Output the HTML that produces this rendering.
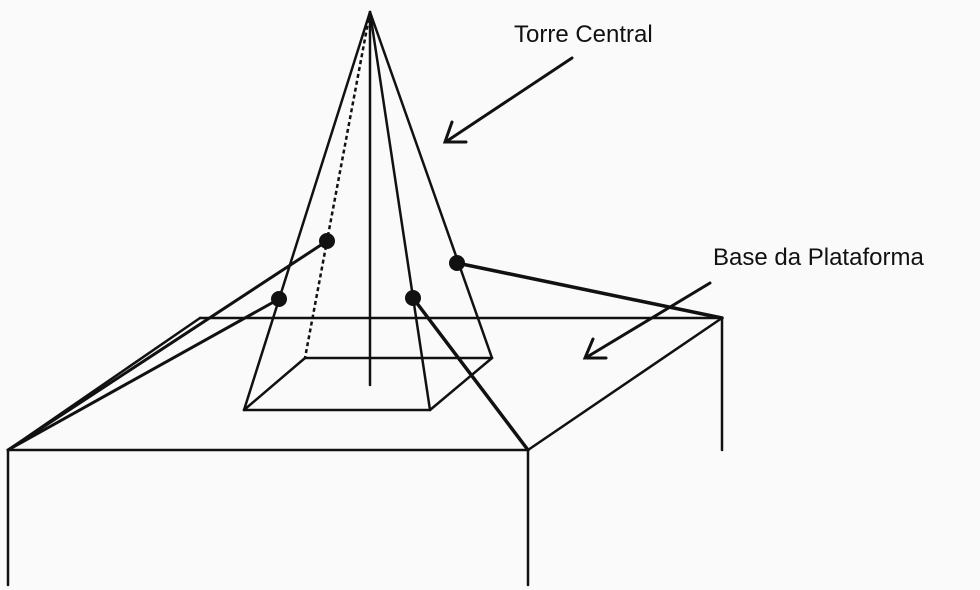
<!DOCTYPE html>
<html><head><style>
html,body{margin:0;padding:0;background:#fafafa;}
svg{display:block}
text{font-family:"Liberation Sans",sans-serif;font-size:24px;fill:#111}
</style></head><body>
<svg width="980" height="590" viewBox="0 0 980 590">
<g stroke="#111" stroke-width="2.5" fill="none" stroke-linecap="round">
<!-- platform -->
<line x1="8" y1="450" x2="528" y2="450"/>
<line x1="8" y1="450" x2="8" y2="585"/>
<line x1="528" y1="450" x2="528" y2="585"/>
<line x1="528" y1="450" x2="722" y2="318"/>
<line x1="722" y1="318" x2="722" y2="450"/>
<line x1="200" y1="318" x2="722" y2="318"/>
<line x1="200" y1="318" x2="8" y2="450"/>
<!-- pyramid -->
<line x1="244" y1="410" x2="430" y2="410"/>
<line x1="305" y1="358" x2="492" y2="358"/>
<line x1="244" y1="410" x2="305" y2="358"/>
<line x1="430" y1="410" x2="492" y2="358"/>
<line x1="370" y1="12" x2="244" y2="410"/>
<line x1="370" y1="12" x2="430" y2="410"/>
<line x1="370" y1="12" x2="492" y2="358"/>
<line x1="370" y1="12" x2="370" y2="385"/>
<line x1="370" y1="12" x2="305" y2="358" stroke-dasharray="4,3" stroke-linecap="butt"/>
<!-- cables -->
<line x1="327" y1="241" x2="8" y2="450" stroke-width="3"/>
<line x1="279" y1="299" x2="8" y2="450" stroke-width="3"/>
<line x1="413" y1="298" x2="528" y2="450" stroke-width="3.5"/>
<line x1="457" y1="263" x2="722" y2="318" stroke-width="3.5"/>
<!-- arrows -->
<line x1="572" y1="58" x2="447" y2="141" stroke-width="3"/>
<polyline points="452,122 445,142 466,142" stroke-width="3"/>
<line x1="710" y1="283" x2="587" y2="357" stroke-width="3"/>
<polyline points="593,339 585,358 606,358" stroke-width="3"/>
</g>
<g fill="#111">
<circle cx="327" cy="241" r="8"/>
<circle cx="279" cy="299" r="8"/>
<circle cx="413" cy="298" r="8"/>
<circle cx="457" cy="263" r="8"/>
</g>
<text x="514" y="42">Torre Central</text>
<text x="713" y="265">Base da Plataforma</text>
</svg>
</body></html>
